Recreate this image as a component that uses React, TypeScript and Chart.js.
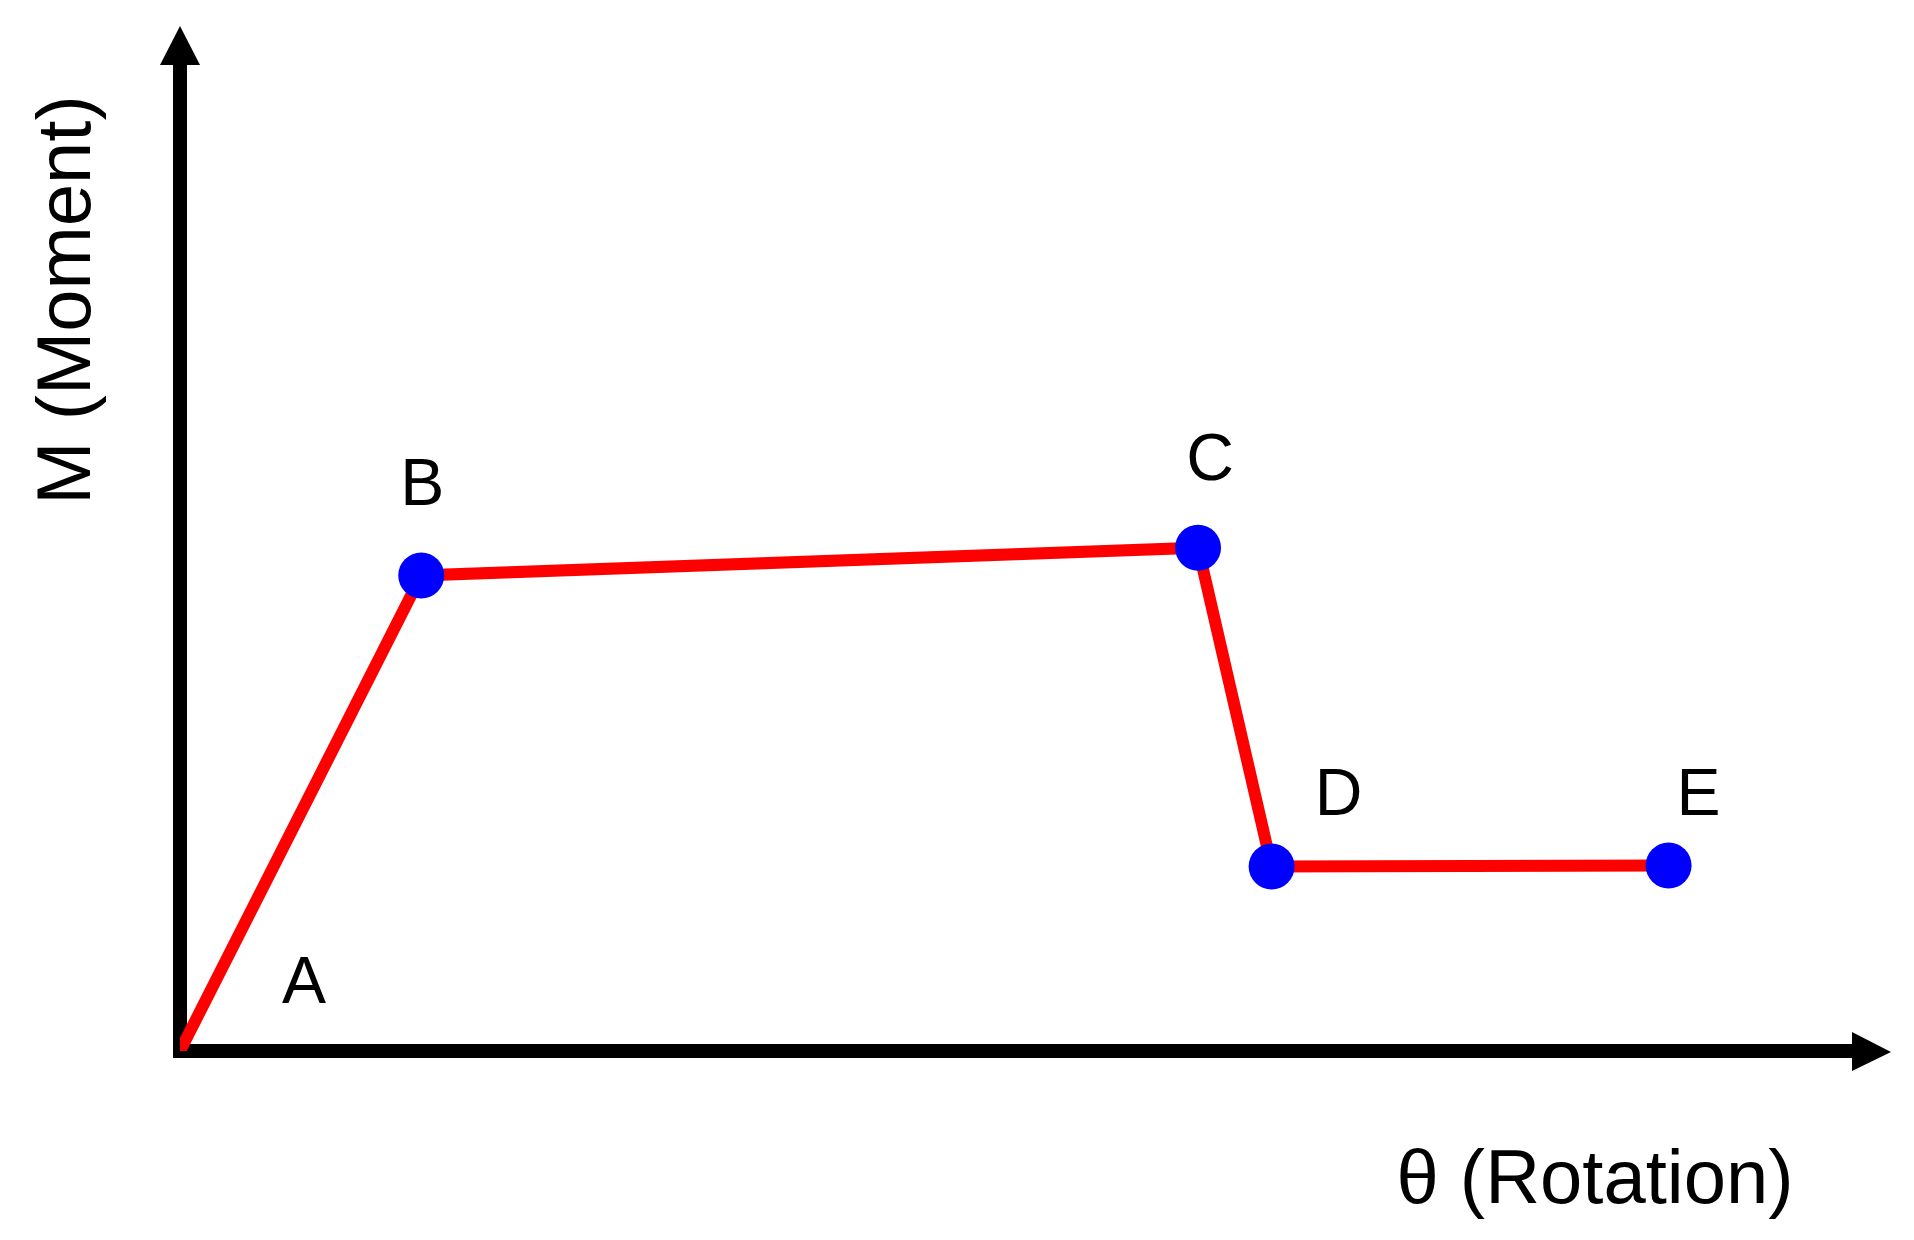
import React, { useEffect, useRef } from "react";
import { Chart, registerables } from "chart.js";

Chart.register(...registerables);

const pointLabels = ["A", "B", "C", "D", "E"];
const rotation = [0, 1.41, 5.95, 6.38, 8.7];
const moment = [0, 4.64, 4.91, 1.8, 1.81];
const xTitle = "θ (Rotation)";
const yTitle = "M (Moment)";

const FONT = "'Liberation Sans', Arial, sans-serif";

export default function App() {
  const ref = useRef<HTMLCanvasElement>(null);
  useEffect(() => {
    if (!ref.current) return;
    const labelOffsets = [
      [124, -48],
      [1, -70],
      [12, -68],
      [67, -52],
      [30, -50],
    ];
    const axesPlugin = {
      id: "axesArrows",
      beforeDatasetsDraw(chart: any) {
        const { ctx, chartArea, scales } = chart;
        const x0 = scales.x.getPixelForValue(0);
        const y0 = scales.y.getPixelForValue(0);
        ctx.save();
        ctx.fillStyle = "#000";
        // y axis
        ctx.fillRect(x0 - 7, chartArea.top + 39, 14, y0 + 7 - (chartArea.top + 39));
        ctx.beginPath();
        ctx.moveTo(x0, chartArea.top);
        ctx.lineTo(x0 - 20, chartArea.top + 39);
        ctx.lineTo(x0 + 20, chartArea.top + 39);
        ctx.closePath();
        ctx.fill();
        // x axis
        ctx.fillRect(x0 - 7, y0 - 7, chartArea.right - 39 - (x0 - 7), 14);
        ctx.beginPath();
        ctx.moveTo(chartArea.right, y0 + 1);
        ctx.lineTo(chartArea.right - 39, y0 - 19);
        ctx.lineTo(chartArea.right - 39, y0 + 20);
        ctx.closePath();
        ctx.fill();
        ctx.restore();
      },
      afterDatasetsDraw(chart: any) {
        const { ctx } = chart;
        const meta = chart.getDatasetMeta(0);
        ctx.save();
        ctx.fillStyle = "#000";
        ctx.font = `66px ${FONT}`;
        ctx.textAlign = "center";
        ctx.textBaseline = "alphabetic";
        meta.data.forEach((el: any, i: number) => {
          const [dx, dy] = labelOffsets[i];
          ctx.fillText(pointLabels[i], el.x + dx, el.y + dy);
        });
        ctx.font = `76px ${FONT}`;
        ctx.fillText(xTitle, 1595, 1203);
        ctx.translate(90, 300);
        ctx.rotate(-Math.PI / 2);
        ctx.fillText(yTitle, 0, 0);
        ctx.restore();
      },
    };
    const chart = new Chart(ref.current, {
      type: "scatter",
      data: {
        datasets: [
          {
            data: rotation.map((x, i) => ({ x, y: moment[i] })),
            showLine: true,
            borderColor: "#ff0000",
            borderWidth: 12,
            backgroundColor: "#0000ff",
            pointBackgroundColor: "#0000ff",
            pointBorderWidth: 0,
            pointRadius: [0, 23, 23, 23, 23],
            pointHoverRadius: [0, 23, 23, 23, 23],
            tension: 0,
          },
        ],
      },
      options: {
        animation: false,
        responsive: false,
        maintainAspectRatio: false,
        events: [],
        layout: { padding: { left: 180, right: 17, top: 26, bottom: 189 } },
        plugins: { legend: { display: false }, tooltip: { enabled: false } },
        scales: {
          x: { type: "linear", min: 0, max: 10, display: false },
          y: { type: "linear", min: 0, max: 10, display: false },
        },
      },
      plugins: [axesPlugin],
    });
    return () => chart.destroy();
  }, []);
  return (
    <div style={{ position: "fixed", left: 0, top: 0, width: 1914, height: 1240, background: "#fff" }}>
      <canvas ref={ref} width={1914} height={1240} style={{ width: 1914, height: 1240, display: "block" }} />
    </div>
  );
}
